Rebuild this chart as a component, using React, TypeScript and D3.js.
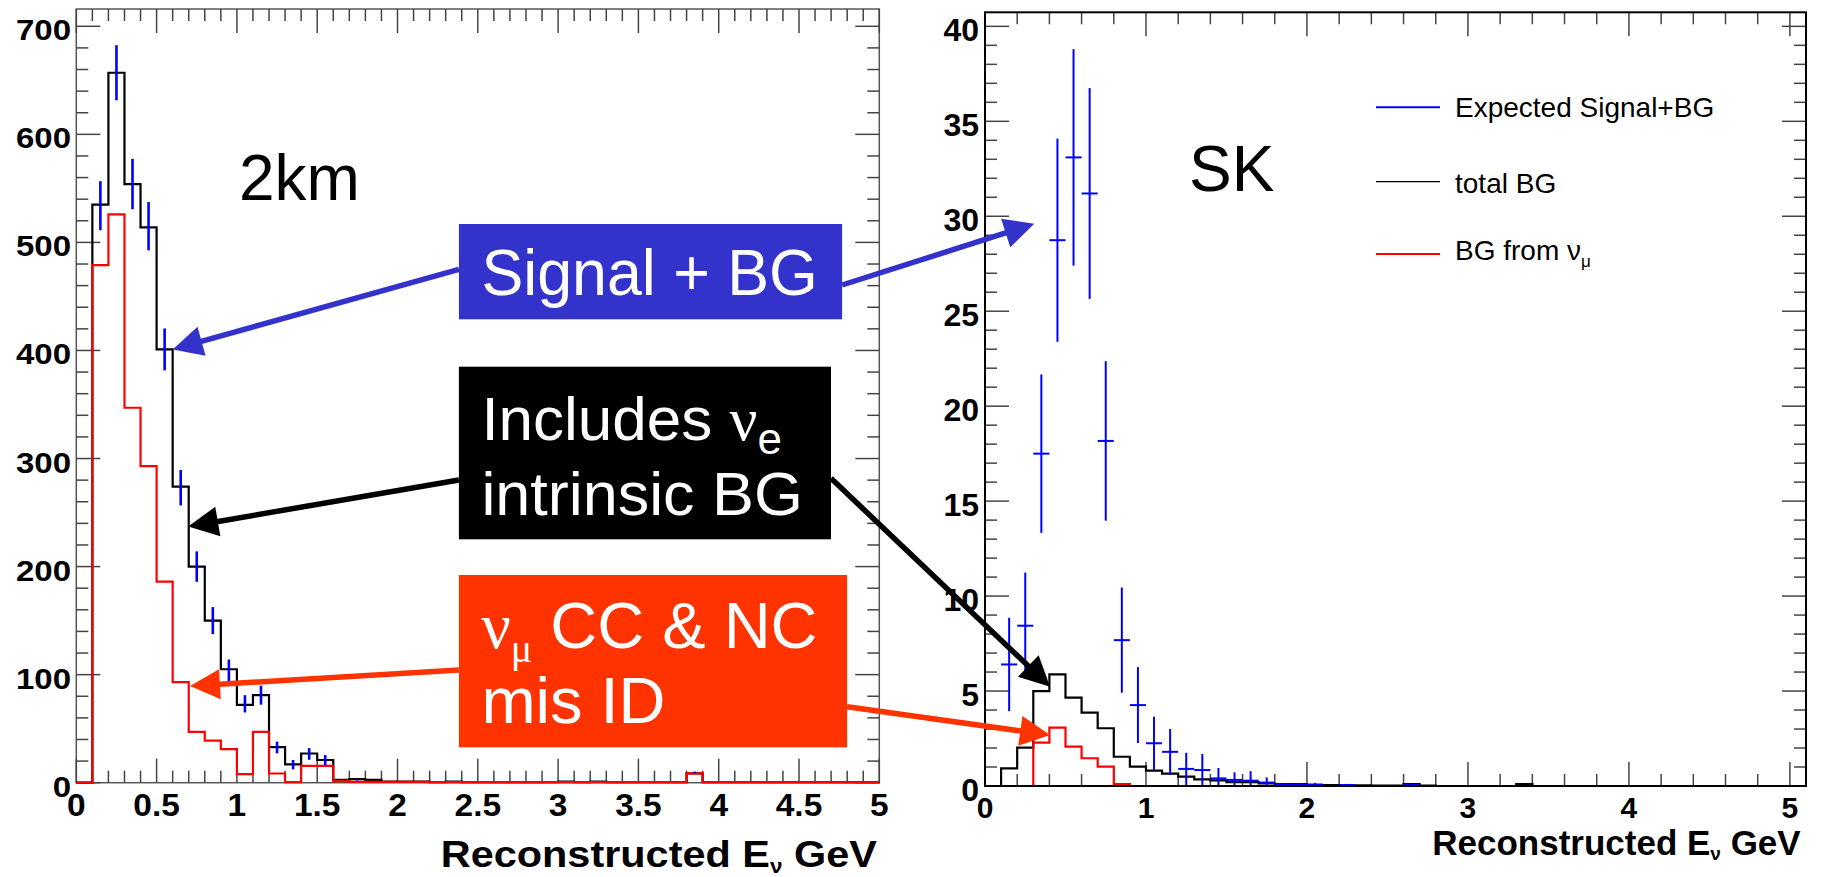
import React from "react";
import * as d3 from "d3";

const W = 1821;
const H = 877;
const font = "'Liberation Sans', Arial, Helvetica, sans-serif";
const greek = "'Liberation Serif', 'DejaVu Serif', serif";

// histogram bins are 0.1 GeV wide, starting at 0
const binWidth = 0.1;

// 2km detector, events per bin
const nearTotalBG = [
  0, 535, 657, 554, 514, 401, 274, 200, 150, 105,
  72, 81, 33, 17, 27, 21, 2.6, 3.3, 2.6, 1.1,
  1.1, 1.1, 0.5, 1.1, 0.5, 0.5, 0.5, 0.5, 0.5, 0.5,
  1.1, 0.5, 1.1, 0.5, 0.5, 0.5, 0.5, 0.5, 8.7, 0.5,
  0.5, 0.4, 0.4, 0.4, 0.4, 0.4, 0.4, 0.4, 0.4, 0.4,
];
const nearNumuBG = [
  0, 479, 526, 347, 293, 186, 93, 47, 39, 31,
  8, 47, 8.5, 0.5, 15.5, 15.5, 1.5, 0.8, 0.8, 0.8,
  0.8, 0.8, 0.5, 0.5, 0.5, 0.5, 0.5, 0.5, 0.5, 0.5,
  0.5, 0.5, 0.5, 0.5, 0.5, 0.5, 0.5, 0.5, 8.7, 0.5,
  0.5, 0.4, 0.4, 0.4, 0.4, 0.4, 0.4, 0.4, 0.4, 0.4,
];
const nearSigE = [0.15, 0.25, 0.35, 0.45, 0.55, 0.65, 0.75, 0.85, 0.95, 1.05, 1.15, 1.25, 1.35, 1.45, 1.55, 1.75, 3.85];
const nearSigN = [534, 657, 554, 515, 401, 273, 200, 150, 104, 73, 81, 32.6, 16.7, 26.6, 21, 2.7, 9.5];
const nearSigErr = [22.7, 25.5, 23.3, 22.4, 19.4, 16.4, 14.1, 12.5, 10, 8, 8.8, 5.4, 4.3, 5.4, 4.6, 0.8, 0.8];

// SK, events per bin
const farTotalBG = [
  0, 0.93, 2.02, 5.0, 5.88, 4.65, 3.86, 3.04, 1.54, 1.02,
  0.81, 0.65, 0.49, 0.35, 0.3, 0.2, 0.2, 0.14, 0.1, 0.1,
  0.05, 0.05, 0.03, 0.03, 0.02, 0.02, 0.1, 0.02, 0, 0,
  0, 0, 0, 0.1, 0, 0, 0, 0, 0, 0,
  0, 0, 0, 0, 0, 0, 0, 0, 0, 0, 0,
];
const farNumuBG = [
  0, 0, 0, 2.28, 3.07, 2.07, 1.46, 1.02, 0.1, 0,
  0, 0, 0, 0, 0, 0, 0, 0, 0, 0,
  0, 0, 0, 0, 0, 0, 0, 0, 0, 0,
  0, 0, 0, 0, 0, 0, 0, 0, 0, 0,
  0, 0, 0, 0, 0, 0, 0, 0, 0, 0, 0,
];
const farSigE = [0.15, 0.25, 0.35, 0.45, 0.55, 0.65, 0.75, 0.85, 0.95, 1.05, 1.15, 1.25, 1.35, 1.45, 1.55, 1.65, 1.75, 1.85, 1.95, 2.05, 2.25, 2.65];
const farSigN = [6.4, 8.44, 17.5, 28.74, 33.1, 31.2, 18.17, 7.68, 4.26, 2.25, 1.8, 0.9, 0.84, 0.4, 0.32, 0.28, 0.18, 0.08, 0.08, 0.08, 0.05, 0.05];
const farSigErr = [2.46, 2.8, 4.17, 5.35, 5.7, 5.55, 4.2, 2.77, 2.0, 1.4, 1.2, 0.85, 0.85, 0.55, 0.4, 0.5, 0.27, 0.08, 0.08, 0.08, 0.06, 0.06];

const legendLabels = ["Expected Signal+BG", "total BG", "BG from "];

// scales (left image is stretched a bit horizontally)
const xL = d3.scaleLinear().domain([0, 5]).range([76.3, 879.3]);
const yL = d3.scaleLinear().domain([0, 716]).range([782.7, 9]);
const xR = d3.scaleLinear().domain([0, 5.1]).range([985, 1806]);
const yR = d3.scaleLinear().domain([0, 40.74]).range([786, 12.3]);

const stepPath = (vals: number[], x: any, y: any) => {
  const pts: [number, number][] = vals.map((v, i) => [i * binWidth, v]);
  pts.push([vals.length * binWidth, vals[vals.length - 1]]);
  return d3
    .line<[number, number]>()
    .x((d) => x(d[0]))
    .y((d) => y(d[1]))
    .curve(d3.curveStepAfter)(pts) as string;
};

const Ticks = ({ x, y, xStep, xCount, yStep, yCount, color, sw }: any) => {
  const [x0, x1] = x.range();
  const [y0, y1] = y.range();
  const out: any[] = [];
  for (let i = 0; i <= xCount; i++) {
    const px = x(i * xStep);
    const len = i % 5 === 0 ? 24 : 12;
    out.push(<line key={"xb" + i} x1={px} x2={px} y1={y0} y2={y0 - len} />);
    out.push(<line key={"xt" + i} x1={px} x2={px} y1={y1} y2={y1 + len} />);
  }
  for (let i = 0; i <= yCount; i++) {
    const py = y(i * yStep);
    const len = i % 5 === 0 ? 24 : 12;
    out.push(<line key={"yl" + i} x1={x0} x2={x0 + len} y1={py} y2={py} />);
    out.push(<line key={"yr" + i} x1={x1} x2={x1 - len} y1={py} y2={py} />);
  }
  return (
    <g stroke={color} strokeWidth={sw} fill="none">
      {out}
    </g>
  );
};

const Arrow = ({ from, to, color, width }: any) => {
  const [xa, ya] = from;
  const [xb, yb] = to;
  const len = Math.hypot(xb - xa, yb - ya);
  const ux = (xb - xa) / len;
  const uy = (yb - ya) / len;
  const hl = 30;
  const hw = 15;
  const bx = xb - ux * hl;
  const by = yb - uy * hl;
  const pts = [
    [xb, yb],
    [bx - uy * hw, by + ux * hw],
    [bx + uy * hw, by - ux * hw],
  ];
  return (
    <g>
      <line x1={xa} y1={ya} x2={bx + ux * 4} y2={by + uy * 4} stroke={color} strokeWidth={width} />
      <polygon points={pts.map((p) => p.join(",")).join(" ")} fill={color} />
    </g>
  );
};

const fmt = d3.format("~g");

export default function App() {
  const blue = "#0000ff";
  const red = "#ff0000";
  const boxBlue = "#3333cc";
  const boxRed = "#ff3300";

  return (
    <svg
      width={W}
      height={H}
      viewBox={`0 0 ${W} ${H}`}
      style={{ position: "absolute", left: 0, top: 0, background: "white" }}
      fontFamily={font}
    >
      <rect x={0} y={0} width={W} height={H} fill="white" />

      {/* ---------- left panel: 2km ---------- */}
      <rect x={xL(0)} y={yL(716)} width={xL(5) - xL(0)} height={yL(0) - yL(716)} fill="none" stroke="#555" strokeWidth={1.5} />
      <Ticks x={xL} y={yL} xStep={0.1} xCount={50} yStep={20} yCount={35} color="#444" sw={1.5} />
      <path d={stepPath(nearTotalBG, xL, yL)} fill="none" stroke="#000" strokeWidth={2.2} />
      <path d={stepPath(nearNumuBG, xL, yL)} fill="none" stroke={red} strokeWidth={2.2} />
      <g stroke={blue} strokeWidth={2.6}>
        {nearSigE.map((e, i) => (
          <line key={i} x1={xL(e)} x2={xL(e)} y1={yL(nearSigN[i] + nearSigErr[i])} y2={yL(nearSigN[i] - nearSigErr[i])} />
        ))}
      </g>
      <g fontWeight="bold" fontSize={30} fill="#000">
        {d3.range(0, 8).map((i) => (
          <text key={i} transform={`translate(71,${yL(i * 100) + 14}) scale(1.1,1)`} textAnchor="end">
            {i * 100}
          </text>
        ))}
      </g>
      <g fontWeight="bold" fontSize={31} fill="#000">
        {d3.range(0, 11).map((i) => (
          <text key={i} transform={`translate(${xL(i * 0.5)},816) scale(1.08,1)`} textAnchor="middle">
            {fmt(i * 0.5)}
          </text>
        ))}
      </g>
      <text transform="translate(876.8,866.7) scale(1.12,1)" textAnchor="end" fontWeight="bold" fontSize={37}>
        Reconstructed E<tspan fontSize={20} dy={6}>ν</tspan>
        <tspan dy={-6}> GeV</tspan>
      </text>
      <text x={239} y={200} fontSize={64}>2km</text>

      {/* ---------- right panel: SK ---------- */}
      <Ticks x={xR} y={yR} xStep={0.2} xCount={25} yStep={1} yCount={40} color="#444" sw={1.5} />
      <path d={stepPath(farTotalBG, xR, yR)} fill="none" stroke="#000" strokeWidth={2.2} />
      <g stroke={blue} strokeWidth={2}>
        {farSigE.map((e, i) => (
          <g key={i}>
            <line x1={xR(e)} x2={xR(e)} y1={yR(farSigN[i] + farSigErr[i])} y2={yR(Math.max(0, farSigN[i] - farSigErr[i]))} />
            <line x1={xR(e - binWidth / 2)} x2={xR(e + binWidth / 2)} y1={yR(farSigN[i])} y2={yR(farSigN[i])} />
          </g>
        ))}
      </g>
      <path d={stepPath(farNumuBG, xR, yR)} fill="none" stroke={red} strokeWidth={2.2} />
      <rect x={xR(0)} y={yR(40.74)} width={xR(5.1) - xR(0)} height={yR(0) - yR(40.74)} fill="none" stroke="#000" strokeWidth={2} />
      <g fontWeight="bold" fontSize={32} fill="#000">
        {d3.range(0, 9).map((i) => (
          <text key={i} x={979} y={yR(i * 5) + 14.5} textAnchor="end">
            {i * 5}
          </text>
        ))}
      </g>
      <g fontWeight="bold" fontSize={30} fill="#000">
        {d3.range(0, 6).map((i) => (
          <text key={i} x={xR(i)} y={818} textAnchor="middle">
            {i}
          </text>
        ))}
      </g>
      <text x={1800.7} y={855} textAnchor="end" fontWeight="bold" fontSize={35}>
        Reconstructed E<tspan fontSize={19} dy={5}>ν</tspan>
        <tspan dy={-5}> GeV</tspan>
      </text>
      <text x={1189} y={191} fontSize={64}>SK</text>

      {/* legend */}
      <g fontSize={28}>
        <line x1={1376} x2={1440} y1={107.3} y2={107.3} stroke={blue} strokeWidth={2} />
        <text x={1455} y={116.7}>{legendLabels[0]}</text>
        <line x1={1376} x2={1440} y1={181.7} y2={181.7} stroke="#000" strokeWidth={1.3} />
        <text x={1455} y={193.3}>{legendLabels[1]}</text>
        <line x1={1376} x2={1440} y1={254} y2={254} stroke={red} strokeWidth={2} />
        <text x={1455} y={260}>
          {legendLabels[2]}ν<tspan fontSize={17} dy={7}>μ</tspan>
        </text>
      </g>

      {/* ---------- annotations ---------- */}
      <Arrow from={[458.9, 269.3]} to={[xL(0.6), yL(401)]} color={boxBlue} width={5.5} />
      <Arrow from={[842.1, 285]} to={[xR(0.306), yR(29.6)]} color={boxBlue} width={5.5} />
      <Arrow from={[458.9, 480]} to={[xL(0.697), yL(237)]} color="#000" width={5.5} />
      <Arrow from={[831, 478.3]} to={[xR(0.404), yR(5.23)]} color="#000" width={5.5} />
      <Arrow from={[458.9, 670]} to={[xL(0.708), yL(89.5)]} color={boxRed} width={5.5} />
      <Arrow from={[847.1, 706.7]} to={[xR(0.404), yR(2.68)]} color={boxRed} width={5.5} />

      <rect x={458.9} y={224} width={842.1 - 458.9} height={319.3 - 224} fill={boxBlue} />
      <text x={481.4} y={295} fontSize={65} fill="white" textLength={336.5} lengthAdjust="spacingAndGlyphs">
        Signal + BG
      </text>

      <rect x={458.9} y={366.7} width={831 - 458.9} height={539.3 - 366.7} fill="#000" />
      <text x={481.4} y={440} fontSize={62} fill="white">
        Includes <tspan fontFamily={greek}>ν</tspan>
        <tspan fontSize={44} dy={14}>e</tspan>
      </text>
      <text x={481.4} y={515} fontSize={62} fill="white" textLength={321.5} lengthAdjust="spacingAndGlyphs">
        intrinsic BG
      </text>

      <rect x={458.9} y={575} width={847.1 - 458.9} height={747.3 - 575} fill={boxRed} />
      <text x={481.4} y={648.3} fontSize={65} fill="white">
        <tspan fontFamily={greek}>ν</tspan>
        <tspan fontFamily={greek} fontSize={40} dy={14}>μ</tspan>
        <tspan dy={-14}> CC &amp; NC</tspan>
      </text>
      <text x={481.4} y={723.3} fontSize={65} fill="white">
        mis ID
      </text>
    </svg>
  );
}
